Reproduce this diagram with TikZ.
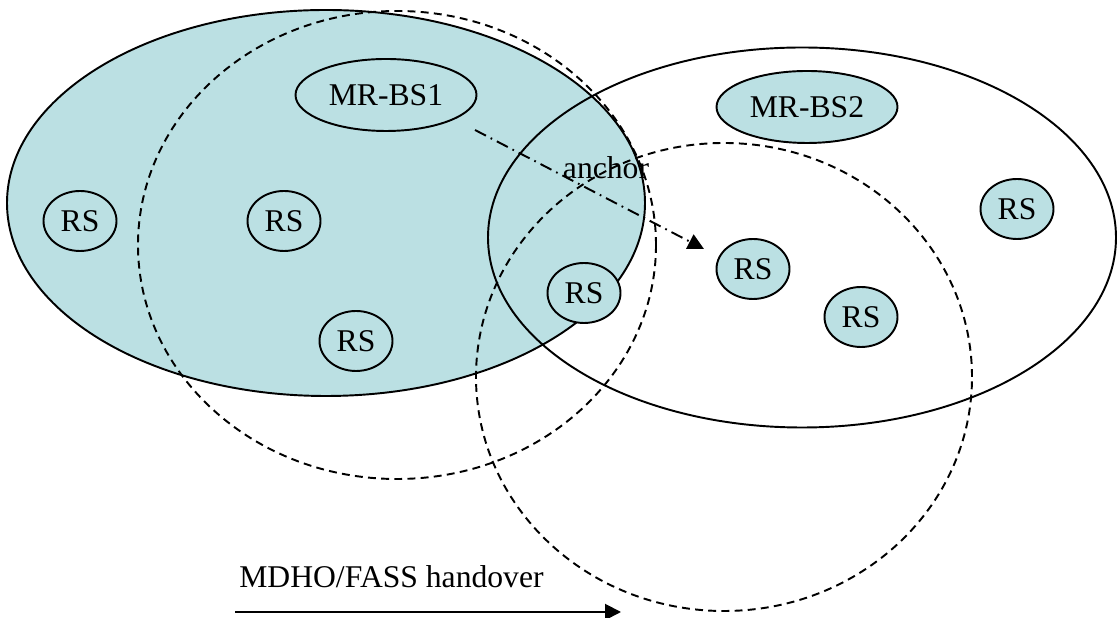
\documentclass[tikz,border=0pt]{standalone}
\usepackage{fontspec}
\setmainfont{Liberation Serif}
\usetikzlibrary{arrows.meta,shapes.geometric}
\definecolor{cellfill}{RGB}{187,224,227}

\begin{document}
\begin{tikzpicture}[
		rs/.style={draw, ellipse, fill=cellfill, line width=1.1pt, inner sep=0pt,
			minimum width=1.46cm, minimum height=1.2cm, font=\fontsize{18}{20}\selectfont},
		bs/.style={rs, minimum width=3.62cm, minimum height=1.44cm},
		zone/.style={line width=1.1pt, dash pattern=on 4.5pt off 3pt},
		lbl/.style={font=\fontsize{18}{20}\selectfont, inner sep=0pt}
	]
		%%%%% START %%%%%
		\useasboundingbox (0, 0) rectangle (22.34, 12.36);
		
		% the two cells
		\draw[line width=1.1pt, fill=cellfill] (6.52, 8.30) ellipse (6.38 and 3.86);
		\draw[line width=1.1pt] (16.04, 7.61) ellipse (6.28 and 3.80);
		
		% dashed coverage
		\draw[zone] (7.94, 7.46) ellipse (5.18 and 4.68);
		\draw[zone] (14.48, 4.82) ellipse (4.96 and 4.68);
		
		\node[bs] (bs1) at (7.72, 10.46) {MR-BS1};
		\node[bs] (bs2) at (16.14, 10.22) {MR-BS2};
		
		\node[rs] (rs1) at (1.60, 7.94) {RS};
		\node[rs] (rs2) at (5.68, 7.94) {RS};
		\node[rs] (rs3) at (7.12, 5.54) {RS};
		\node[rs] (rs4) at (11.68, 6.50) {RS};
		\node[rs] (rs5) at (15.06, 6.98) {RS};
		\node[rs] (rs6) at (17.22, 6.02) {RS};
		\node[rs] (rs7) at (20.34, 8.18) {RS};
		
		% anchor link
		\node[lbl, anchor=base] (anch) at (12.12, 8.78) {anchor};
		\coordinate (linkfrom) at (9.50, 9.76);
		\coordinate (linkto) at (14.08, 7.38);
		\draw[line width=1.1pt, dash pattern=on 7pt off 3pt on 1pt off 3pt,
			-{Triangle[length=0.32cm, width=0.32cm]}] (linkfrom) -- (linkto);
		
		% handover direction
		\node[lbl, anchor=base west] (hand) at (4.78, 0.60) {MDHO/FASS handover};
		\coordinate (handfrom) at (4.70, 0.12);
		\coordinate (handto) at (12.42, 0.12);
		\draw[line width=1.1pt, -{Triangle[length=0.32cm, width=0.32cm]}] (handfrom) -- (handto);
		
		%%%%% END %%%%%
	\end{tikzpicture}
\end{document}
